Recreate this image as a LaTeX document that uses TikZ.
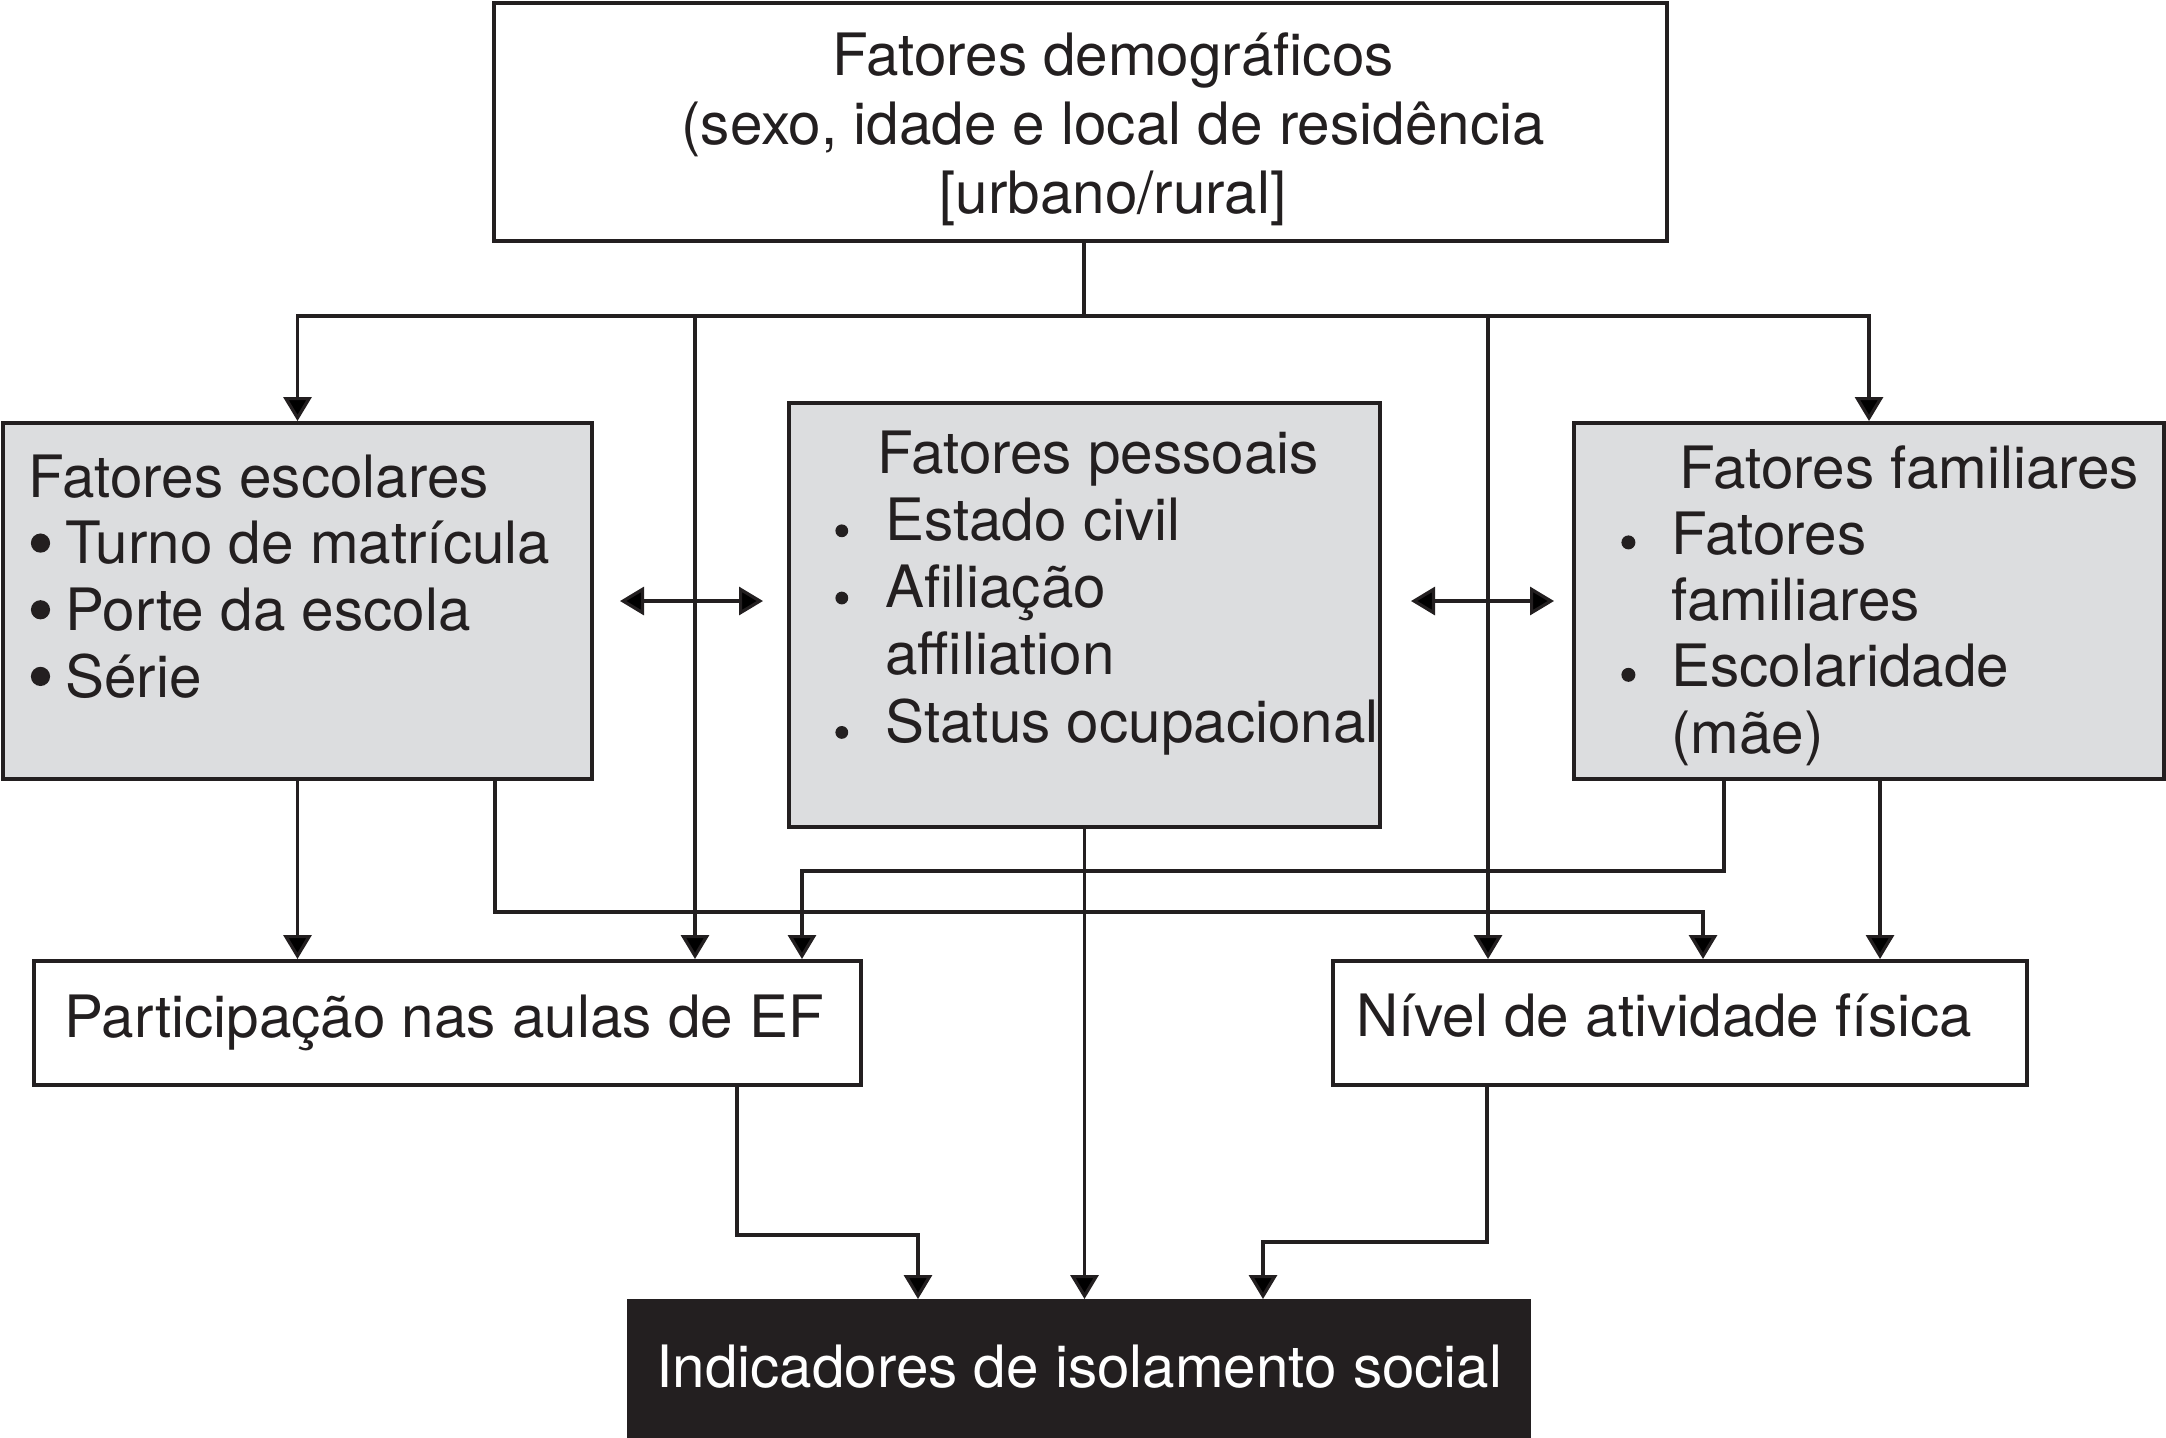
\documentclass[tikz,border=0pt]{standalone}
\usepackage{fontspec}
\setmainfont{TeX Gyre Heros}
\usepackage{graphicx}
\usetikzlibrary{arrows.meta,fit}
\definecolor{ink}{RGB}{35,31,32}
\definecolor{boxgray}{RGB}{220,221,223}
% bullet: #1 radius, #2 height of centre above baseline
\newcommand{\dotbul}[2]{\tikz[baseline=0pt]\fill[ink] (0pt,#2) circle[radius=#1];}
\newcommand{\bigbul}{\makebox[18.5pt][l]{\hspace*{1.25pt}\dotbul{4.8pt}{10.3pt}}}
\newcommand{\midbul}{\makebox[26pt][l]{\hspace*{1pt}\dotbul{3.2pt}{4.8pt}}}
\newcommand{\rightbul}{\makebox[26.5pt][l]{\hspace*{1.5pt}\dotbul{3.5pt}{6pt}}}
\tikzset{
  box/.style={draw=ink, line width=2pt, inner sep=0pt, rectangle},
  graybox/.style={box, fill=boxgray},
  darkbox/.style={box, fill=ink},
  conn/.style={draw=ink, line width=1.6pt},
  arr/.style={conn, -{Triangle[length=12pt,width=14pt]}},
  darr/.style={conn, {Triangle[length=12pt,width=14pt]}-{Triangle[length=12pt,width=14pt]}},
  txt/.style={inner sep=0pt, anchor=base west, align=left, text=ink, font=\fontsize{29.2}{33.5}\selectfont},
}
\begin{document}
\begin{tikzpicture}[x=0.5pt,y=-0.5pt]
\useasboundingbox (0,0) rectangle (2166,1437);
\fill[white] (0,0) rectangle (2166,1437);

% boxes
\node[box, fit={(494,3) (1667,241)}] (demo) {};
\node[graybox, fit={(3,423) (592,779)}] (escolar) {};
\node[graybox, fit={(789,403) (1380,827)}] (pessoal) {};
\node[graybox, fit={(1574,423) (2164,779)}] (familiar) {};
\node[box, fit={(34,961) (861,1085)}] (part) {};
\node[box, fit={(1333,961) (2027,1085)}] (nivel) {};
\node[darkbox, fit={(629,1301) (1529,1440)}] (indic) {};

% texts (multi-line nodes: base anchor = last line's baseline)
\node[txt, anchor=base, align=center, font=\fontsize{29.2}{34.5}\selectfont] (tdemo) at (1113,213)
  {Fatores demográficos\\(sexo, idade e local de residência\\{}[urbano/rural]};
\node[txt, font=\fontsize{29.2}{33.33}\selectfont] (tesc) at (28,697)
  {Fatores escolares\\
   \bigbul Turno de matrícula\\
   \bigbul Porte da escola\\
   \bigbul Série};
\node[txt, font=\fontsize{29.2}{33.6}\selectfont] (tpes) at (833,742)
  {\hspace*{22pt}Fatores pessoais\\
   \midbul Estado civil\\
   \midbul Afiliação\\
   \hspace*{26pt}affiliation\\
   \midbul Status ocupacional};
\node[txt, font=\fontsize{29.2}{33.1}\selectfont] (tfam) at (1618,753)
  {\hspace*{30.5pt}Fatores familiares\\
   \rightbul Fatores\\
   \hspace*{26.5pt}familiares\\
   \rightbul Escolaridade\\
   \hspace*{26.5pt}(mãe)};
\node[txt] (tpart) at (64,1037) {Participação nas aulas de EF};
\node[txt] (tniv) at (1356,1036) {Nível de atividade física};
\node[txt, text=white] (tind) at (656,1387) {Indicadores de isolamento social};

% junction coordinates
\coordinate (j) at (1084,316);
\coordinate (cA) at (695,316);
\coordinate (cB) at (1488,316);
\coordinate (k1) at (495,912);
\coordinate (k2) at (1703,912);
\coordinate (k3) at (1724,871);
\coordinate (k4) at (802,871);
\coordinate (k5) at (1880,900);
\coordinate (k6) at (737,1235);
\coordinate (k7) at (918,1235);
\coordinate (k8) at (1487,1242);
\coordinate (k9) at (1263,1242);
\coordinate (d1) at (620,601);
\coordinate (d2) at (763,601);
\coordinate (d3) at (1411,601);
\coordinate (d4) at (1554,601);

% connectors from demographic box
\draw[conn] (demo.south -| j) -- (j);
\draw[arr] (j) -| (escolar.north);
\draw[arr] (j) -| (familiar.north);
\draw[arr] (cA) -- (part.north -| cA);
\draw[arr] (cB) -- (nivel.north -| cB);

% double arrows
\draw[darr] (d1) -- (d2);
\draw[darr] (d3) -- (d4);

% school factors
\draw[arr] (escolar.south) -- (part.north -| escolar.south);
\draw[arr] (escolar.south -| k1) -- (k1) -| (nivel.north -| k2);

% family factors
\draw[arr] (familiar.south -| k3) -- (k3) -| (part.north -| k4);
\draw[arr] (familiar.south -| k5) -- (nivel.north -| k5);

% to outcome
\draw[arr] (pessoal.south) -- (indic.north -| pessoal.south);
\draw[arr] (part.south -| k6) -- (k6) -| (indic.north -| k7);
\draw[arr] (nivel.south -| k8) -- (k8) -| (indic.north -| k9);
\end{tikzpicture}
\end{document}
